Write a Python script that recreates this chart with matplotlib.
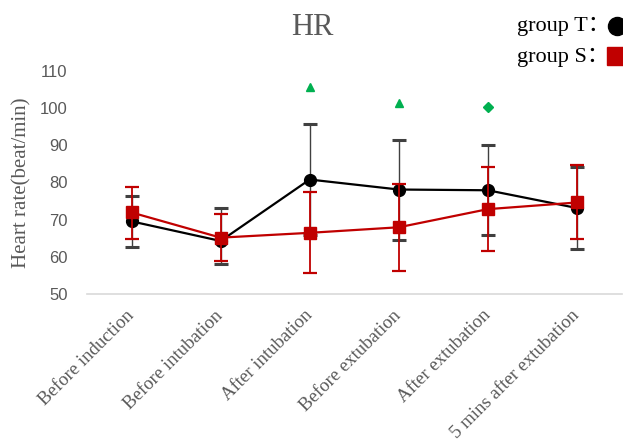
import matplotlib.pyplot as plt
from matplotlib.lines import Line2D

stages = ['Before induction', 'Before intubation', 'After intubation',
          'Before extubation', 'After extubation', '5 mins after extubation']

t_mean = [69.5, 64.2, 80.8, 78.1, 77.9, 73.1]
t_up = [76.3, 73.0, 95.9, 91.5, 90.0, 84.2]
t_low = [62.7, 57.9, 65.7, 64.4, 65.7, 62.0]

s_mean = [71.9, 65.1, 66.4, 67.9, 72.8, 74.6]
s_up = [78.9, 71.5, 77.5, 79.6, 84.2, 84.8]
s_low = [64.8, 58.7, 55.5, 56.0, 61.4, 64.6]

sig_idx = [2, 3, 4]
sig_val = [105.9, 101.4, 100.3]
sig_marker = ['^', '^', 'D']

serif = ['Liberation Serif', 'Noto Sans CJK SC']
grey = '#595959'
red = '#C00000'
green = '#00B050'

fig = plt.figure(figsize=(6.23, 4.45), dpi=100)
ax = fig.add_axes([0.1396, 0.3404, 0.858, 0.499])

x = list(range(len(stages)))

t_err = [[m - l for m, l in zip(t_mean, t_low)], [u - m for m, u in zip(t_mean, t_up)]]
s_err = [[m - l for m, l in zip(s_mean, s_low)], [u - m for m, u in zip(s_mean, s_up)]]

ax.errorbar(x, t_mean, yerr=t_err, color='black', ecolor='#404040', elinewidth=1,
            capsize=5, capthick=2.2, marker='o', markersize=8.5, linewidth=1.6, zorder=3)
ax.errorbar(x, s_mean, yerr=s_err, color=red, ecolor=red, elinewidth=1.3,
            capsize=5, capthick=1.6, marker='s', markersize=8, linewidth=1.6, zorder=4)

for i, v, m in zip(sig_idx, sig_val, sig_marker):
    ax.plot(i, v, marker=m, color=green, markersize=6 if m == '^' else 5, linestyle='none')

ax.set_ylim(50, 110)
ax.set_xlim(-0.5, 5.5)
ax.set_yticks(range(50, 111, 10))
ax.set_yticklabels([str(v) for v in range(50, 111, 10)], fontfamily='Liberation Sans')
ax.set_xticks(x)
ax.set_xticklabels(stages, rotation=45, ha='right', va='center', rotation_mode='anchor',
                   fontfamily=serif, fontsize=13.5, color=grey)
ax.tick_params(axis='y', length=0, labelsize=12, labelcolor=grey, pad=14)
ax.tick_params(axis='x', length=0, pad=14)
for side in ['top', 'right', 'left']:
    ax.spines[side].set_visible(False)
ax.spines['bottom'].set_color('#d9d9d9')
ax.spines['bottom'].set_linewidth(1.2)

fig.text(0.035, 0.589, 'Heart rate(beat/min)', fontfamily=serif, fontsize=15, color=grey,
         rotation=90, ha='center', va='center')
fig.text(0.501, 0.939, 'HR', fontfamily=serif, fontsize=22, color=grey, ha='center', va='center')

# legend in top right corner
fig.text(0.830, 0.941, 'group T：', fontfamily=serif, fontsize=16, color='black', va='center')
fig.text(0.830, 0.872, 'group S：', fontfamily=serif, fontsize=16, color='black', va='center')
fig.add_artist(Line2D([0.990], [0.941], marker='o', color='black', markersize=13,
                      transform=fig.transFigure))
fig.add_artist(Line2D([0.989], [0.874], marker='s', color=red, markersize=13,
                      transform=fig.transFigure))

plt.savefig('out.png', dpi=100)
